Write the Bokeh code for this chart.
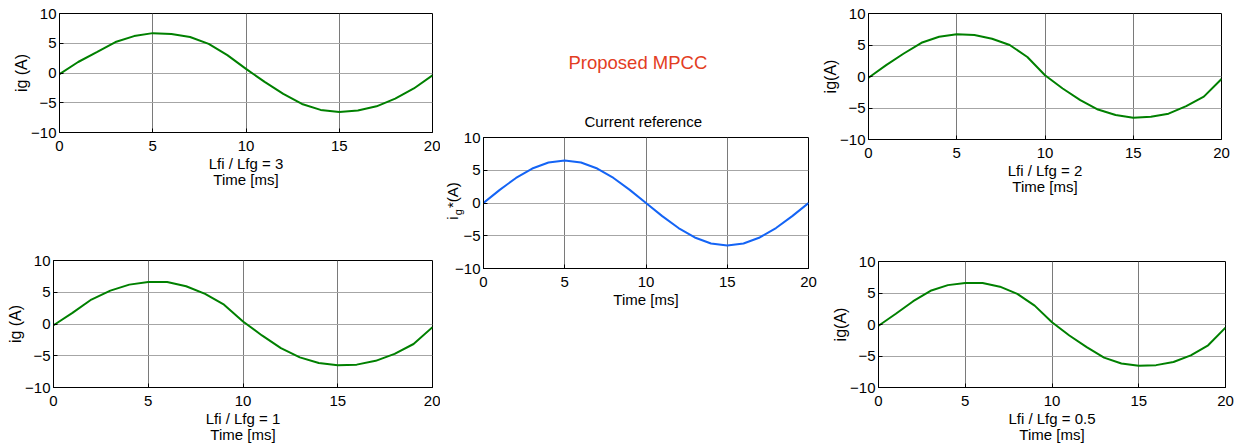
from bokeh.plotting import figure
from bokeh.layouts import row, column
from bokeh.models import FixedTicker, Title, LinearAxis
from bokeh.embed import file_html
from bokeh.resources import INLINE

# ---------------- data ----------------
t_ms = [0, 1, 2, 3, 4, 5, 6, 7, 8, 9, 10, 11, 12, 13, 14, 15, 16, 17, 18, 19, 20]

ig_lfi_lfg_3 = [-0.2, 1.85, 3.5, 5.2, 6.2, 6.7, 6.55, 6.05, 4.9, 3.0, 0.7,
                -1.5, -3.5, -5.2, -6.2, -6.55, -6.3, -5.6, -4.3, -2.6, -0.4]
ig_lfi_lfg_2 = [-0.2, 1.8, 3.65, 5.35, 6.3, 6.7, 6.6, 6.0, 5.0, 3.1, 0.2,
                -1.9, -3.75, -5.25, -6.1, -6.55, -6.4, -5.9, -4.7, -3.2, -0.4]
ig_lfi_lfg_1 = [-0.2, 1.75, 3.85, 5.25, 6.2, 6.6, 6.6, 5.95, 4.75, 3.05, 0.4,
                -1.8, -3.8, -5.25, -6.15, -6.5, -6.4, -5.8, -4.7, -3.15, -0.5]
ig_lfi_lfg_05 = [-0.2, 1.7, 3.7, 5.35, 6.25, 6.6, 6.6, 6.0, 4.85, 3.0, 0.35,
                 -1.75, -3.6, -5.25, -6.2, -6.55, -6.45, -5.95, -4.9, -3.3, -0.5]
ig_reference = [0.0, 2.0, 3.82, 5.26, 6.18, 6.5, 6.18, 5.26, 3.82, 2.0, 0.0,
                -2.0, -3.82, -5.26, -6.18, -6.5, -6.18, -5.26, -3.82, -2.0, 0.0]

x_ticks = [0, 5, 10, 15, 20]
y_ticks = [-10, -5, 0, 5, 10]

FONT = "Liberation Sans"
GREEN = "#008000"
BLUE = "#1464f5"
NB = "\u00a0"


def panel(w, h, bl, br, bt, bb, xlabel, ylabel, ys, color, time_title=True,
          margin=None):
    kw = {}
    if margin is not None:
        kw["margin"] = margin
    p = figure(width=w, height=h, x_range=(0, 20), y_range=(-10, 10),
               output_backend="svg", toolbar_location=None,
               min_border_left=bl, min_border_right=br,
               min_border_top=bt, min_border_bottom=bb, **kw)
    p.line(t_ms, ys, line_color=color, line_width=2)
    p.outline_line_color = "black"
    p.outline_line_width = 1
    p.outline_line_alpha = 1
    p.background_fill_color = "white"
    p.border_fill_color = "white"
    p.xaxis.ticker = FixedTicker(ticks=x_ticks)
    p.yaxis.ticker = FixedTicker(ticks=y_ticks)
    for ax in (p.xaxis[0], p.yaxis[0]):
        ax.axis_line_color = "black"
        ax.major_tick_in = 4
        ax.major_tick_out = 0
        ax.major_tick_line_color = "black"
        ax.minor_tick_line_color = None
        ax.major_label_text_font = FONT
        ax.major_label_text_font_size = "15px"
        ax.major_label_text_color = "black"
        ax.axis_label_text_font = FONT
        ax.axis_label_text_font_style = "normal"
        ax.axis_label_text_color = "black"
    p.xaxis.major_label_standoff = 8
    p.yaxis.major_label_standoff = 3
    p.xaxis.axis_label = xlabel
    p.xaxis.axis_label_text_font_size = "15px"
    p.xaxis.axis_label_standoff = 1
    p.yaxis.axis_label_text_font_size = "16px"
    if ylabel:
        p.yaxis.axis_label = ylabel
        p.yaxis.axis_label_standoff = -2
    if time_title:
        p.add_layout(Title(text="Time [ms]", align="center", text_font=FONT,
                           text_font_size="15px", text_font_style="normal",
                           text_color="black", standoff=-12), "below")
    p.xgrid.ticker = FixedTicker(ticks=x_ticks)
    p.ygrid.ticker = FixedTicker(ticks=y_ticks)
    p.xgrid.grid_line_color = "#7a7a7a"
    p.ygrid.grid_line_color = "#a6a6a6"
    p.xgrid.grid_line_width = 1
    p.ygrid.grid_line_width = 1
    return p


# left column (frames at x 59 and 53)
tl = panel(434, 195, 53, 8, 13, 63, "Lfi / Lfg = 3", "ig (A)",
           ig_lfi_lfg_3, GREEN, margin=(0, 0, 0, 6))
bl = panel(440, 253, 53, 8, 65, 61, "Lfi / Lfg = 1", "ig (A)",
           ig_lfi_lfg_1, GREEN)
# right column (frames at x 864 and 874)
tr = panel(423, 198, 45, 21, 13, 59, "Lfi / Lfg = 2", "ig(A)",
           ig_lfi_lfg_2, GREEN)
br = panel(417, 250, 45, 21, 63, 61, "Lfi / Lfg = 0.5", "ig(A)",
           ig_lfi_lfg_05, GREEN, margin=(0, 0, 0, 10))

ce = panel(379, 448, 43, 11, 137, 180, "Time [ms]", None, ig_reference, BLUE,
           time_title=False)

# titles above the centre panel (first added sits nearest the frame)
ce.add_layout(Title(text="Current reference", align="left", text_font=FONT,
                    text_font_size="15px", text_font_style="normal",
                    text_color="black", standoff=16, offset=101), "above")
ce.add_layout(Title(text="Proposed MPCC", align="left", text_font=FONT,
                    text_font_size="18.5px", text_font_style="normal",
                    text_color="#e33d22", standoff=60, offset=85), "above")

# composed y-axis label  i_g^* (A): subscript on the tick axis, rest outside
ce.yaxis[0].axis_label = "g" + NB * 6
ce.yaxis[0].axis_label_text_font_size = "11px"
ce.yaxis[0].axis_label_standoff = -12

ax_label = LinearAxis(ticker=FixedTicker(ticks=[]),
                      axis_label=NB + "i" + NB * 2 + "*(A)",
                      axis_label_standoff=-11, major_tick_in=0,
                      major_tick_out=0, minor_tick_in=0, minor_tick_out=0,
                      major_label_standoff=0, axis_line_color=None,
                      major_tick_line_color=None, minor_tick_line_color=None,
                      axis_label_text_font=FONT, axis_label_text_font_size="15px",
                      axis_label_text_font_style="normal",
                      axis_label_text_color="black")
ce.add_layout(ax_label, "left")

layout = row(column(tl, bl), ce, column(tr, br))

with open("out.html", "w") as f:
    f.write(file_html(layout, INLINE))
